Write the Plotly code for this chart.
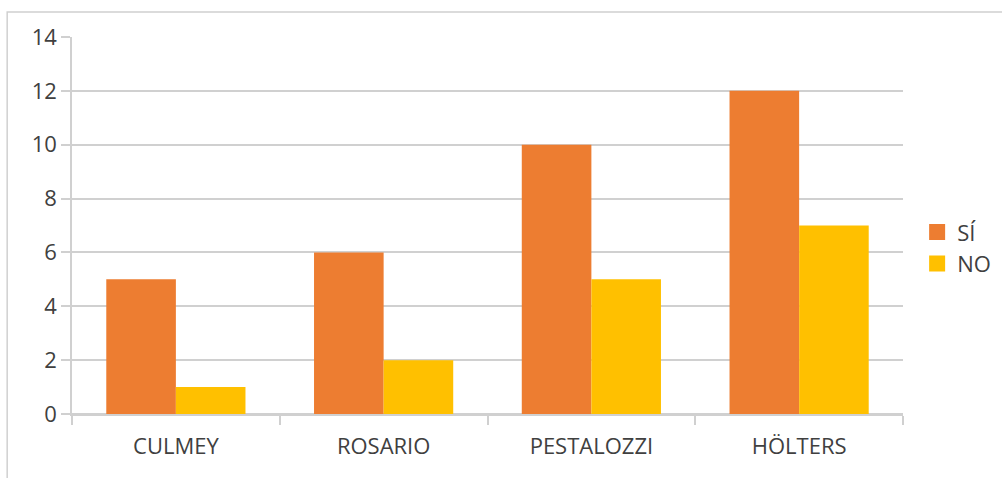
import plotly.graph_objects as go

# Survey responses per school
schools = ["CULMEY", "ROSARIO", "PESTALOZZI", "HÖLTERS"]
si_values = [5, 6, 10, 12]
no_values = [1, 2, 5, 7]
y_ticks = [0, 2, 4, 6, 8, 10, 12, 14]

ORANGE = "#ED7D31"
YELLOW = "#FFC000"
GRID = "#D0D0D0"
TEXT = "#404040"
FONT = "Open Sans"

fig = go.Figure()
fig.add_trace(go.Bar(x=schools, y=si_values, name="SÍ", marker=dict(color=ORANGE, line_width=0),
                     showlegend=False))
fig.add_trace(go.Bar(x=schools, y=no_values, name="NO", marker=dict(color=YELLOW, line_width=0),
                     showlegend=False))

# Legend entries with larger square swatches
for name, color in [("SÍ", ORANGE), ("NO", YELLOW)]:
    fig.add_trace(go.Scatter(x=[None], y=[None], mode="markers", name=name,
                             marker=dict(symbol="square", size=18, color=color)))

# Outer chart frame
fig.add_shape(type="rect", xref="paper", yref="paper",
              x0=-0.078, x1=1.3, y0=-0.4, y1=1.066,
              line=dict(color="#D0D0D0", width=1.5), fillcolor="rgba(0,0,0,0)", layer="below")

fig.update_layout(
    width=1002, height=478, autosize=False,
    margin=dict(l=72, r=99, t=37, b=64, autoexpand=False),
    paper_bgcolor="white", plot_bgcolor="white",
    barmode="group", bargap=0.33, bargroupgap=0,
    font=dict(family=FONT, size=22, color=TEXT),
    legend=dict(x=1.017, y=0.44, xanchor="left", yanchor="middle",
                font=dict(family=FONT, size=22, color=TEXT),
                itemwidth=30, bgcolor="rgba(0,0,0,0)", tracegroupgap=0),
)
fig.update_yaxes(range=[0, 14], tickvals=y_ticks, showgrid=True, gridcolor=GRID, gridwidth=1.6,
                 showline=True, linecolor=GRID, linewidth=1.6,
                 ticks="outside", ticklen=9, tickcolor=GRID, tickwidth=1.6,
                 zeroline=True, zerolinecolor=GRID, zerolinewidth=1.6,
                 tickfont=dict(family=FONT, size=22, color=TEXT), fixedrange=True)
fig.update_xaxes(showline=True, linecolor=GRID, linewidth=1.6,
                 ticks="outside", tickson="boundaries", ticklen=9, tickcolor=GRID, tickwidth=1.6,
                 ticklabelstandoff=12,
                 tickfont=dict(family=FONT, size=22, color=TEXT), fixedrange=True)

fig.write_html("out.html", config={"displayModeBar": False})
